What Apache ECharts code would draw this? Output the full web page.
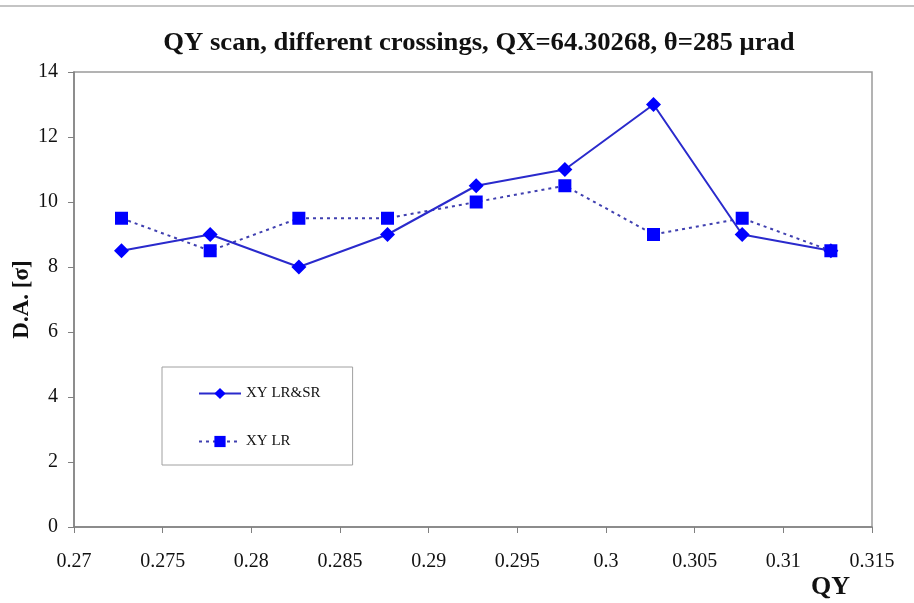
<!DOCTYPE html>
<html>
<head>
<meta charset="utf-8">
<script src="https://cdn.jsdelivr.net/npm/echarts@6/dist/echarts.min.js"></script>
<style>
  html, body { margin: 0; padding: 0; background: #fff; }
  #chart { width: 914px; height: 603px; }
</style>
</head>
<body>
<div id="chart"></div>
<script>
// Tune QY values scanned at QX = 64.30268
const qy = [0.27268, 0.27768, 0.28268, 0.28768, 0.29268, 0.29768, 0.30268, 0.30768, 0.31268];
// Dynamic aperture in sigma for each crossing scheme
const daLRSR = [8.5, 9, 8, 9, 10.5, 11, 13, 9, 8.5];
const daLR = [9.5, 8.5, 9.5, 9.5, 10, 10.5, 9, 9.5, 8.5];
const seriesNames = ['XY LR&SR', 'XY LR'];
const chartTitle = 'QY scan, different crossings, QX=64.30268, θ=285 μrad';

const serif = '"Liberation Serif", "DejaVu Serif", serif';

const chart = echarts.init(document.getElementById('chart'), null, { renderer: 'canvas' });

chart.setOption({
  backgroundColor: '#ffffff',
  animation: false,
  title: [
    {
      text: 'QY',
      left: 806,
      top: 569,
      textStyle: { fontFamily: serif, fontWeight: 'bold', fontSize: 26, color: '#111' }
    }
  ],
  graphic: [
    {
      type: 'line',
      shape: { x1: 0, y1: 6, x2: 914, y2: 6 },
      style: { stroke: '#c4c4c4', lineWidth: 2 }
    },
    {
      // chart heading, slightly widened serif
      type: 'text',
      x: 479,
      y: 44,
      scaleX: 1.066,
      style: {
        text: chartTitle,
        x: 0,
        y: 0,
        align: 'center',
        verticalAlign: 'middle',
        font: 'bold 25px ' + serif,
        fill: '#111'
      }
    }
  ],
  legend: {
    orient: 'vertical',
    left: 162,
    top: 367,
    padding: [19, 32, 16, 36],
    itemGap: 33,
    itemWidth: 42,
    itemHeight: 14,
    borderColor: '#a0a0a0',
    borderWidth: 1,
    data: seriesNames,
    textStyle: { fontFamily: serif, fontSize: 15, color: '#111' }
  },
  grid: {
    left: 74,
    right: 42,
    top: 72,
    bottom: 76,
    containLabel: false,
    outerBoundsMode: 'none',
    show: true,
    borderColor: '#9a9a9a',
    borderWidth: 1.5
  },
  xAxis: {
    type: 'value',
    min: 0.27,
    max: 0.315,
    interval: 0.005,
    axisLine: { show: true, lineStyle: { color: '#808080', width: 1.5 } },
    axisTick: { show: true, inside: false, length: 6, lineStyle: { color: '#808080' } },
    splitLine: { show: false },
    axisLabel: {
      margin: 25,
      fontFamily: serif,
      fontSize: 20,
      color: '#111',
      formatter: v => String(+v.toFixed(3))
    }
  },
  yAxis: {
    type: 'value',
    min: 0,
    max: 14,
    interval: 2,
    name: 'D.A. [σ]',
    nameLocation: 'middle',
    nameGap: 40,
    nameRotate: 90,
    nameMoveOverlap: false,
    nameTextStyle: { fontFamily: serif, fontWeight: 'bold', fontSize: 23, color: '#111' },
    axisLine: { show: true, lineStyle: { color: '#808080', width: 1.5 } },
    axisTick: { show: true, inside: false, length: 6, lineStyle: { color: '#808080' } },
    splitLine: { show: false },
    axisLabel: { margin: 16, fontFamily: serif, fontSize: 20, color: '#111' }
  },
  series: [
    {
      name: seriesNames[0],
      type: 'line',
      data: qy.map((x, i) => [x, daLRSR[i]]),
      symbol: 'diamond',
      symbolSize: 15,
      itemStyle: { color: '#0000ff' },
      lineStyle: { color: '#2a2acc', width: 2, type: 'solid' },
      z: 3
    },
    {
      name: seriesNames[1],
      type: 'line',
      data: qy.map((x, i) => [x, daLR[i]]),
      symbol: 'rect',
      symbolSize: 13,
      itemStyle: { color: '#0000ff' },
      lineStyle: { color: '#4040b0', width: 2, type: [3, 4] },
      z: 2
    }
  ]
});
</script>
</body>
</html>
